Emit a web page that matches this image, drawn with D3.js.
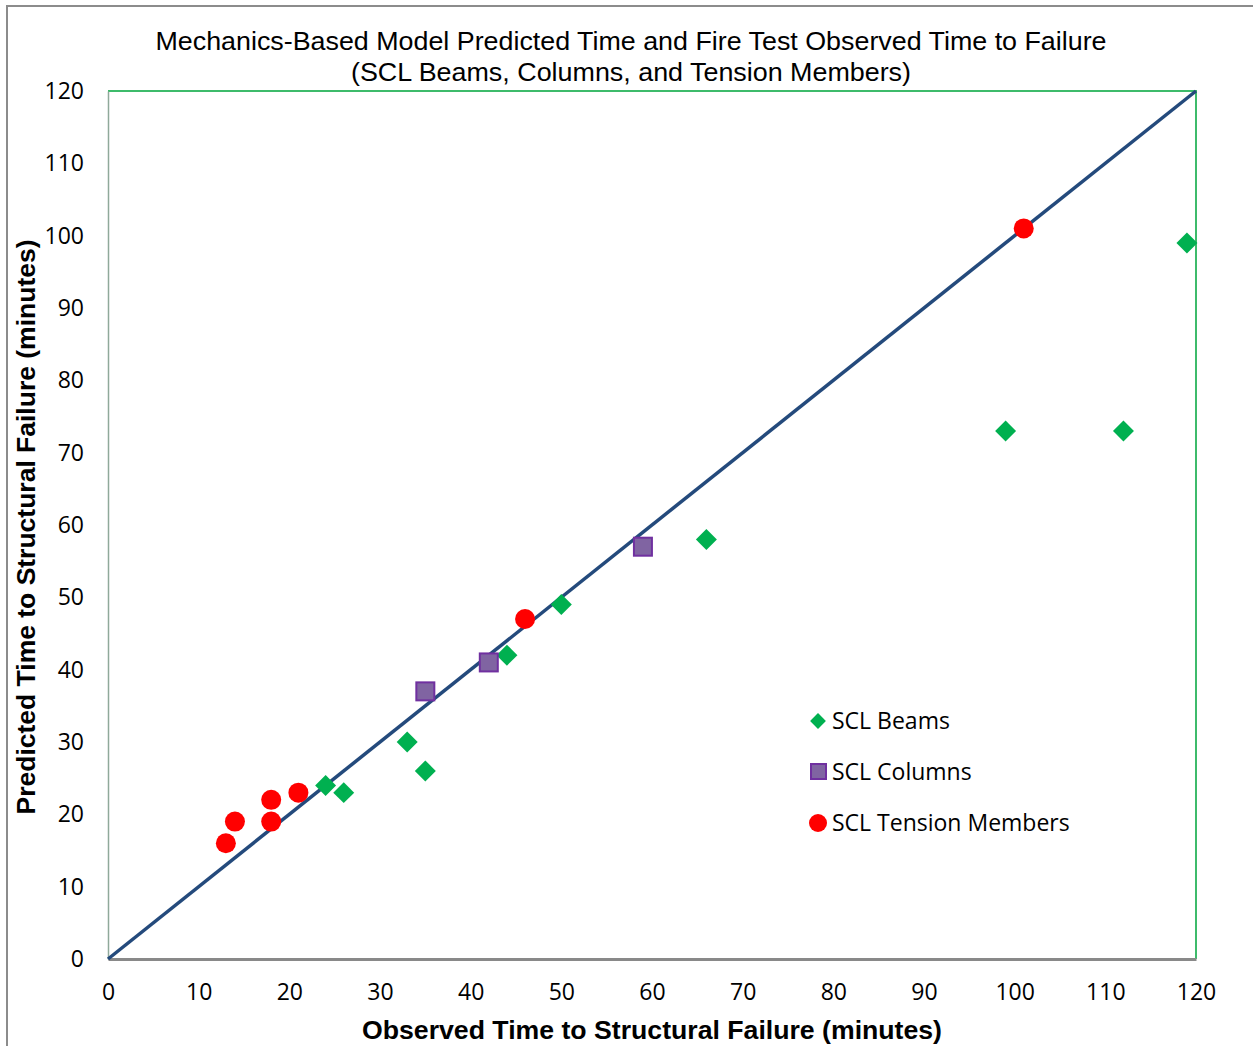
<!DOCTYPE html>
<html><head><meta charset="utf-8">
<script src="https://cdn.jsdelivr.net/npm/d3@7"></script>
<style>body{margin:0;background:#fff}</style>
</head><body>
<svg id="c" width="1253" height="1046"></svg>
<script>
const beamsX = [24, 26, 33, 35, 44, 50, 66, 99, 112, 119];
const beamsY = [24, 23, 30, 26, 42, 49, 58, 73, 73, 99];
const columnsX = [35, 42, 59];
const columnsY = [37, 41, 57];
const tensionX = [13, 14, 18, 18, 21, 46, 101];
const tensionY = [16, 19, 22, 19, 23, 47, 101];
const tickValues = [0, 10, 20, 30, 40, 50, 60, 70, 80, 90, 100, 110, 120];
const seriesNames = ["SCL Beams", "SCL Columns", "SCL Tension Members"];
const titleLines = ["Mechanics-Based Model Predicted Time and Fire Test Observed Time to Failure", "(SCL Beams, Columns, and Tension Members)"];
const xTitle = "Observed Time to Structural Failure (minutes)";
const yTitle = "Predicted Time to Structural Failure (minutes)";

const svg = d3.select("#c");
const L = 108, R = 1196, T = 91, B = 959;
const x = d3.scaleLinear().domain([0, 120]).range([L, R]);
const y = d3.scaleLinear().domain([0, 120]).range([B, T]);

// outer border
svg.append("rect").attr("x", 7).attr("y", 6).attr("width", 1300).attr("height", 1100)
  .attr("fill", "none").attr("stroke", "#8c8c8c").attr("stroke-width", 2);

// title
const titleLens = [951, 560];
svg.append("g").selectAll("text").data(titleLines).join("text")
  .attr("x", 631).attr("y", (d, i) => 50 + i * 31)
  .attr("text-anchor", "middle").attr("font-family", "Liberation Sans, Arial, sans-serif")
  .attr("font-size", 25).attr("fill", "#000")
  .attr("textLength", (d, i) => titleLens[i]).attr("lengthAdjust", "spacingAndGlyphs")
  .text(d => d);

// plot frame top/right
svg.append("path").attr("d", `M${L},${T}H${R}V${B}`).attr("fill", "none")
  .attr("stroke", "#3dbb6b").attr("stroke-width", 2);

// axes
const xAxis = d3.axisBottom(x).tickValues(tickValues).tickSize(0).tickPadding(25);
const yAxis = d3.axisLeft(y).tickValues(tickValues).tickSize(0).tickPadding(24);
const gx = svg.append("g").attr("transform", `translate(0,${B})`).call(xAxis);
const gy = svg.append("g").attr("transform", `translate(${L},0)`).call(yAxis);
gy.select(".domain").attr("stroke", "#8fa99a").attr("stroke-width", 1.5);
gx.select(".domain").attr("stroke", "#898989").attr("stroke-width", 3);
[gx, gy].forEach(g => g.selectAll("text").attr("font-family", "Open Sans, Noto Sans, sans-serif")
  .attr("font-size", 23).attr("fill", "#000"));
gx.selectAll(".tick text").attr("dy", "0.71em");

// axis titles
svg.append("text").attr("x", 652).attr("y", 1039).attr("text-anchor", "middle")
  .attr("font-family", "Liberation Sans, Arial, sans-serif").attr("font-weight", "bold")
  .attr("font-size", 25).attr("textLength", 580).attr("lengthAdjust", "spacingAndGlyphs").text(xTitle);
svg.append("text").attr("transform", "translate(35,527) rotate(-90)").attr("text-anchor", "middle")
  .attr("font-family", "Liberation Sans, Arial, sans-serif").attr("font-weight", "bold")
  .attr("font-size", 25).attr("textLength", 575).attr("lengthAdjust", "spacingAndGlyphs").text(yTitle);

// 1:1 line
svg.append("line").attr("x1", x(0)).attr("y1", y(0)).attr("x2", x(120)).attr("y2", y(120))
  .attr("stroke", "#244a7c").attr("stroke-width", 3.5);

const beams = beamsX.map((v, i) => [v, beamsY[i]]);
const cols = columnsX.map((v, i) => [v, columnsY[i]]);
const tens = tensionX.map((v, i) => [v, tensionY[i]]);

const diamond = d3.symbol().type(d3.symbolSquare).size(220);
svg.append("g").selectAll("path").data(beams).join("path")
  .attr("transform", d => `translate(${x(d[0])},${y(d[1])}) rotate(45)`)
  .attr("d", diamond()).attr("fill", "#00b050");
svg.append("g").selectAll("rect").data(cols).join("rect")
  .attr("x", d => x(d[0]) - 9).attr("y", d => y(d[1]) - 9).attr("width", 18).attr("height", 18)
  .attr("fill", "#8064a2").attr("stroke", "#7030a0").attr("stroke-width", 2);
svg.append("g").selectAll("circle").data(tens).join("circle")
  .attr("cx", d => x(d[0])).attr("cy", d => y(d[1])).attr("r", 10).attr("fill", "#ff0000");

// legend
const lg = svg.append("g");
const ly = [721, 772, 823];
lg.append("path").attr("transform", `translate(818,${ly[0]}) rotate(45)`)
  .attr("d", d3.symbol().type(d3.symbolSquare).size(125)()).attr("fill", "#00b050");
lg.append("rect").attr("x", 811).attr("y", ly[1] - 8).attr("width", 15).attr("height", 15)
  .attr("fill", "#8064a2").attr("stroke", "#7030a0").attr("stroke-width", 2);
lg.append("circle").attr("cx", 818).attr("cy", ly[2]).attr("r", 9).attr("fill", "#ff0000");
lg.selectAll("text").data(seriesNames).join("text")
  .attr("x", 832).attr("y", (d, i) => ly[i]).attr("dy", "0.35em")
  .attr("font-family", "Open Sans, Noto Sans, sans-serif").attr("font-size", 23).text(d => d);
</script>
</body></html>
